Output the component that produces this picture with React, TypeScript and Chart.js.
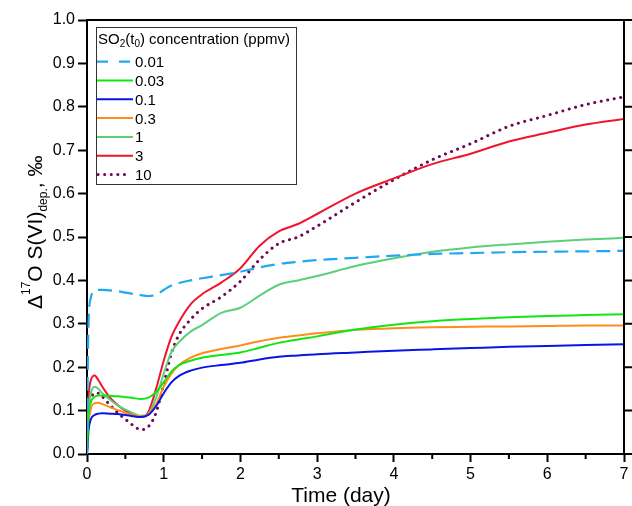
import React, { useEffect, useRef } from "react";
import { Chart, registerables } from "chart.js";

Chart.register(...registerables);

const FONT = "'Liberation Sans', Arial, sans-serif";

const times = [0, 0.01, 0.02, 0.05, 0.1, 0.15, 0.2, 0.3, 0.4, 0.5, 0.6, 0.7, 0.8, 0.9, 1.0, 1.1, 1.2, 1.35, 1.5, 1.75, 2.0, 2.25, 2.5, 2.75, 3.0, 3.5, 4.0, 4.5, 5.0, 5.5, 6.0, 6.5, 7.0];

const c001 = [0, 0.2, 0.3, 0.36, 0.375, 0.378, 0.378, 0.377, 0.375, 0.372, 0.369, 0.366, 0.364, 0.367, 0.378, 0.388, 0.394, 0.4, 0.405, 0.412, 0.42, 0.43, 0.438, 0.443, 0.447, 0.452, 0.457, 0.461, 0.463, 0.465, 0.466, 0.467, 0.468];
const c003 = [0, 0.05, 0.09, 0.12, 0.132, 0.135, 0.135, 0.134, 0.133, 0.131, 0.129, 0.127, 0.13, 0.143, 0.165, 0.19, 0.205, 0.215, 0.222, 0.228, 0.234, 0.245, 0.256, 0.264, 0.271, 0.287, 0.298, 0.306, 0.311, 0.315, 0.318, 0.32, 0.322];
const c01 = [0, 0.03, 0.055, 0.08, 0.09, 0.093, 0.094, 0.093, 0.092, 0.09, 0.087, 0.085, 0.09, 0.11, 0.14, 0.165, 0.18, 0.192, 0.199, 0.205, 0.21, 0.218, 0.224, 0.227, 0.23, 0.234, 0.238, 0.241, 0.244, 0.247, 0.249, 0.251, 0.253];
const c03 = [0, 0.04, 0.07, 0.105, 0.117, 0.118, 0.115, 0.108, 0.101, 0.095, 0.09, 0.086, 0.092, 0.115, 0.155, 0.185, 0.205, 0.222, 0.232, 0.242, 0.25, 0.26, 0.268, 0.273, 0.278, 0.286, 0.29, 0.292, 0.293, 0.294, 0.295, 0.296, 0.296];
const c1 = [0, 0.06, 0.1, 0.14, 0.155, 0.15, 0.14, 0.125, 0.112, 0.102, 0.094, 0.088, 0.093, 0.13, 0.185, 0.235, 0.258, 0.282, 0.297, 0.325, 0.337, 0.365, 0.39, 0.4, 0.41, 0.433, 0.451, 0.466, 0.476, 0.483, 0.489, 0.494, 0.498];
const c3 = [0, 0.08, 0.13, 0.17, 0.181, 0.17, 0.155, 0.13, 0.113, 0.1, 0.09, 0.085, 0.097, 0.15, 0.215, 0.27, 0.305, 0.345, 0.368, 0.395, 0.428, 0.48, 0.513, 0.53, 0.553, 0.6, 0.635, 0.668, 0.692, 0.72, 0.74, 0.759, 0.772];
const c10 = [0, 0.05, 0.09, 0.125, 0.14, 0.14, 0.132, 0.113, 0.095, 0.08, 0.066, 0.056, 0.063, 0.095, 0.16, 0.232, 0.275, 0.31, 0.335, 0.362, 0.398, 0.448, 0.485, 0.5, 0.525, 0.58, 0.632, 0.678, 0.715, 0.755, 0.78, 0.805, 0.823];

const seriesLabels = ["0.01", "0.03", "0.1", "0.3", "1", "3", "10"];
const seriesValues = [c001, c003, c01, c03, c1, c3, c10];
const seriesColors = ["#22A8F0", "#12E612", "#0A14E6", "#FF8C1A", "#5CCF7C", "#F0142D", "#6E0A50"];
const seriesDash: number[][] = [[14, 7], [], [], [], [], [], [0.1, 6.5]];
const seriesWidth = [2.2, 2, 2, 2, 2, 2, 3];

const yTicks = [0, 0.1, 0.2, 0.3, 0.4, 0.5, 0.6, 0.7, 0.8, 0.9, 1.0];
const xMinorTicks = [0.5, 1.5, 2.5, 3.5, 4.5, 5.5, 6.5];

const decorPlugin = {
  id: "decor",
  afterDraw(chart: any) {
    const ctx = chart.ctx as CanvasRenderingContext2D;
    const area = chart.chartArea;
    const xs = chart.scales.x;
    const ys = chart.scales.y;
    ctx.save();
    ctx.strokeStyle = "#000";
    ctx.lineWidth = 2;
    // top and right frame
    ctx.beginPath();
    ctx.moveTo(area.left, area.top);
    ctx.lineTo(area.right, area.top);
    ctx.moveTo(area.right, area.top - 1);
    ctx.lineTo(area.right, area.bottom);
    ctx.stroke();
    // right ticks
    ctx.beginPath();
    yTicks.forEach((v) => {
      const py = ys.getPixelForValue(v);
      ctx.moveTo(area.right, py);
      ctx.lineTo(area.right + 9, py);
    });
    ctx.stroke();
    // x minor ticks
    ctx.beginPath();
    xMinorTicks.forEach((v) => {
      const px = xs.getPixelForValue(v);
      ctx.moveTo(px, area.bottom);
      ctx.lineTo(px, area.bottom + 5);
    });
    ctx.stroke();

    // x title
    ctx.fillStyle = "#000";
    ctx.font = `21px ${FONT}`;
    ctx.textAlign = "center";
    ctx.textBaseline = "alphabetic";
    ctx.fillText("Time (day)", 341, 502);

    // y title (rotated, with super/subscripts)
    ctx.save();
    ctx.translate(41.5, 309);
    ctx.rotate(-Math.PI / 2);
    ctx.textAlign = "left";
    let cx = 0;
    const part = (txt: string, size: number, dy: number) => {
      ctx.font = `${size}px ${FONT}`;
      ctx.fillText(txt, cx, dy);
      cx += ctx.measureText(txt).width;
    };
    part("\u0394", 21, 0);
    part("17", 12, -12);
    part("O S(VI)", 21, 0);
    part("dep.", 12, 5);
    part(", \u2030", 21, 0);
    ctx.restore();

    // legend
    const bx = 96, by = 27, bw = 200, bh = 157;
    ctx.fillStyle = "#fff";
    ctx.fillRect(bx, by, bw, bh);
    ctx.lineWidth = 1;
    ctx.strokeStyle = "#333";
    ctx.strokeRect(bx + 0.5, by + 0.5, bw, bh);
    ctx.fillStyle = "#000";
    ctx.textAlign = "left";
    cx = 98;
    const tpart = (txt: string, size: number, dy: number) => {
      ctx.font = `${size}px ${FONT}`;
      ctx.fillText(txt, cx, 44 + dy);
      cx += ctx.measureText(txt).width;
    };
    tpart("SO", 15, 0);
    tpart("2", 10, 3);
    tpart("(t", 15, 0);
    tpart("0", 10, 3);
    tpart(") concentration (ppmv)", 15, 0);
    seriesLabels.forEach((lab, i) => {
      const cy = 61.7 + i * 18.8;
      ctx.save();
      ctx.strokeStyle = seriesColors[i];
      ctx.lineWidth = seriesWidth[i];
      ctx.setLineDash(i === 0 ? [11, 11] : seriesDash[i]);
      ctx.lineCap = i === 6 ? "round" : "butt";
      ctx.beginPath();
      ctx.moveTo(i === 6 ? 98 : 97, cy);
      ctx.lineTo(i === 6 ? 131 : 133, cy);
      ctx.stroke();
      ctx.restore();
      ctx.font = `15px ${FONT}`;
      ctx.fillStyle = "#000";
      ctx.fillText(lab, 135, cy + 5.5);
    });
    ctx.restore();
  },
};

export default function App() {
  const ref = useRef<HTMLCanvasElement | null>(null);
  useEffect(() => {
    if (!ref.current) return;
    const chart = new Chart(ref.current, {
      type: "line",
      data: {
        datasets: seriesLabels.map((lab, i) => ({
          label: lab,
          data: times.map((t, k) => ({ x: t, y: seriesValues[i][k] })),
          borderColor: seriesColors[i],
          borderWidth: seriesWidth[i],
          borderDash: seriesDash[i],
          borderCapStyle: i === 6 ? "round" : "butt",
          pointRadius: 0,
          fill: false,
          cubicInterpolationMode: "monotone",
        })),
      },
      options: {
        responsive: false,
        animation: false,
        devicePixelRatio: 1,
        layout: { padding: { top: 20, right: 8, left: 0, bottom: 0 } },
        plugins: { legend: { display: false }, tooltip: { enabled: false } },
        scales: {
          x: {
            type: "linear",
            min: 0,
            max: 7,
            ticks: { stepSize: 1, color: "#000", font: { family: FONT, size: 16 }, padding: 3, maxRotation: 0 },
            grid: { drawOnChartArea: false, drawTicks: true, tickLength: 8, tickWidth: 2, tickColor: "#000" },
            border: { display: true, color: "#000", width: 2 },
            afterFit: (s: any) => { s.height = 52; },
          },
          y: {
            type: "linear",
            min: 0,
            max: 1,
            ticks: { stepSize: 0.1, color: "#000", font: { family: FONT, size: 16 }, padding: 3, callback: (v: any) => Number(v).toFixed(1) },
            grid: { drawOnChartArea: false, drawTicks: true, tickLength: 9, tickWidth: 2, tickColor: "#000" },
            border: { display: true, color: "#000", width: 2 },
            afterFit: (s: any) => { s.width = 87; },
          },
        },
      },
      plugins: [decorPlugin],
    } as any);
    return () => chart.destroy();
  }, []);
  return (
    <div style={{ position: "fixed", left: 0, top: 0, width: 632, height: 506, background: "#fff" }}>
      <canvas ref={ref} width={632} height={506} style={{ width: 632, height: 506, display: "block" }} />
    </div>
  );
}
